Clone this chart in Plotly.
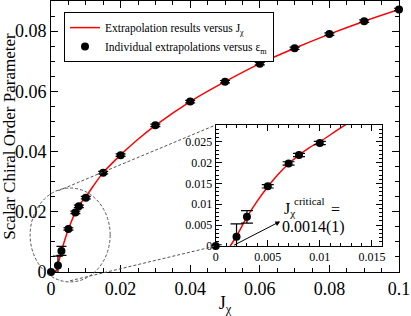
import plotly.graph_objects as go

# ---- data ----
j_chi = [0.0, 0.002, 0.003, 0.005, 0.007, 0.008, 0.010, 0.015, 0.020, 0.030,
         0.040, 0.050, 0.060, 0.070, 0.080, 0.090, 0.100]
order_param = [0.0, 0.0022, 0.0070, 0.0143, 0.0198, 0.0218, 0.0247, 0.0330, 0.0388,
               0.0487, 0.0566, 0.0632, 0.0692, 0.0743, 0.0790, 0.0833, 0.0872]
err_plus = [0.0003, 0.0031, 0.0015, 0.0004, 0.0004, 0.0004, 0.0004, 0.0004, 0.0004,
            0.0004, 0.0004, 0.0004, 0.0004, 0.0004, 0.0004, 0.0004, 0.0004]
err_minus = [0.0003, 0.0031, 0.0015, 0.0004, 0.0004, 0.0004, 0.0004, 0.0004, 0.0004,
             0.0004, 0.0004, 0.0004, 0.0004, 0.0004, 0.0004, 0.0004, 0.0004]

fit_x = [0.0014, 0.002, 0.003, 0.004, 0.005, 0.006, 0.007, 0.008, 0.009, 0.010, 0.012,
         0.015, 0.020, 0.025, 0.030, 0.040, 0.050, 0.060, 0.070, 0.080, 0.090, 0.100]
fit_y = [0.0, 0.0024, 0.0069, 0.0108, 0.0142, 0.0172, 0.0197, 0.0218, 0.0236, 0.0250,
         0.0283, 0.0330, 0.0389, 0.0441, 0.0487, 0.0566, 0.0632, 0.0692, 0.0743,
         0.0790, 0.0833, 0.0872]

n_inset = 7  # points shown in the inset (J_chi <= 0.01)

FONT = "Liberation Serif"
W, H = 411, 316
ML, MR, MT, MB = 51, 12, 1, 44
XR, YR = [0, 0.1], [0, 0.09]
INSET_X = [0.4733, 0.952]
INSET_Y = [0.0959, 0.5424]


def px(xv):
    return (xv - XR[0]) / (XR[1] - XR[0])


def py(yv):
    return (yv - YR[0]) / (YR[1] - YR[0])


fig = go.Figure()

# main panel
fig.add_trace(go.Scatter(x=fit_x, y=fit_y, mode="lines", line=dict(color="red", width=1.5, shape="spline"),
                         name="Extrapolation results versus J<sub>χ</sub>", xaxis="x", yaxis="y"))
fig.add_trace(go.Scatter(x=j_chi, y=order_param, mode="markers",
                         marker=dict(color="black", size=8),
                         error_y=dict(type="data", array=err_plus, arrayminus=err_minus,
                                      color="black", thickness=1.2, width=5),
                         cliponaxis=False,
                         name="Individual extrapolations versus ε<sub>m</sub>", xaxis="x", yaxis="y"))

# inset panel
fig.add_trace(go.Scatter(x=fit_x, y=fit_y, mode="lines", line=dict(color="red", width=1.5, shape="spline"),
                         showlegend=False, xaxis="x2", yaxis="y2"))
fig.add_trace(go.Scatter(x=j_chi[:n_inset], y=order_param[:n_inset], mode="markers",
                         marker=dict(color="black", size=8),
                         error_y=dict(type="data", array=err_plus[:n_inset], arrayminus=err_minus[:n_inset],
                                      color="black", thickness=1.2, width=6),
                         cliponaxis=False, showlegend=False, xaxis="x2", yaxis="y2"))

axis_common = dict(showline=True, linecolor="black", linewidth=1, mirror="allticks",
                   ticks="inside", tickcolor="black", showgrid=False, zeroline=False,
                   automargin=False)

fig.update_layout(
    width=W, height=H,
    margin=dict(l=ML, r=MR, t=MT, b=MB),
    paper_bgcolor="white", plot_bgcolor="white",
    font=dict(family=FONT, color="black"),
    xaxis=dict(domain=[0, 1], range=XR, dtick=0.02, ticklen=7,
               tickfont=dict(size=18),
               minor=dict(dtick=0.005, ticklen=4, ticks="inside", tickcolor="black"),
               title=dict(text="J<sub>χ</sub>", font=dict(size=18), standoff=2),
               **axis_common),
    yaxis=dict(domain=[0, 1], range=YR, dtick=0.02, ticklen=7,
               tickfont=dict(size=18),
               minor=dict(dtick=0.005, ticklen=4, ticks="inside", tickcolor="black"),
               title=dict(text="Scalar Chiral Order Parameter", font=dict(size=17), standoff=2),
               **axis_common),
    xaxis2=dict(domain=INSET_X, anchor="y2", range=[0, 0.016], dtick=0.005, ticklen=6,
                tickfont=dict(size=12),
                minor=dict(dtick=0.001, ticklen=3, ticks="inside", tickcolor="black"),
                **axis_common),
    yaxis2=dict(domain=INSET_Y, anchor="x2", range=[0, 0.029], dtick=0.005, ticklen=6,
                tickfont=dict(size=12),
                minor=dict(dtick=0.001, ticklen=3, ticks="inside", tickcolor="black"),
                **axis_common),
    legend=dict(x=0.0374, y=0.959, xanchor="left", yanchor="top",
                bgcolor="white", bordercolor="black", borderwidth=1,
                font=dict(size=11.5), itemwidth=30, tracegroupgap=0),
    showlegend=True,
)

# ellipse around the zoomed region and connectors to the inset
dash = dict(color="#555555", width=1, dash="3px,2px")
fig.add_shape(type="circle", xref="paper", yref="paper",
              x0=px(-0.0060), x1=px(0.0170), y0=py(-0.0033), y1=py(0.0279), line=dash)
fig.add_shape(type="line", xref="paper", yref="paper",
              x0=px(0.0021), y0=py(0.0270), x1=INSET_X[0], y1=INSET_Y[1], line=dash)
fig.add_shape(type="line", xref="paper", yref="paper",
              x0=px(0.0055), y0=py(-0.0029), x1=INSET_X[0], y1=INSET_Y[0], line=dash)

# critical point annotation in the inset
fig.add_annotation(x=0.0062, y=0.0059, ax=0.0016, ay=0.0, xref="x2", yref="y2",
                   axref="x2", ayref="y2", showarrow=True, arrowhead=2, arrowsize=1,
                   arrowwidth=1, arrowcolor="black", text="")
fig.add_annotation(x=0.0071, y=0.0087, xref="x2", yref="y2", showarrow=False,
                   text="J<sub>χ</sub>", font=dict(size=16))
fig.add_annotation(x=0.0090, y=0.0107, xref="x2", yref="y2", showarrow=False,
                   text="critical", font=dict(size=11))
fig.add_annotation(x=0.0115, y=0.0087, xref="x2", yref="y2", showarrow=False,
                   text="=", font=dict(size=16))
fig.add_annotation(x=0.0094, y=0.0046, xref="x2", yref="y2", showarrow=False,
                   text="0.0014(1)", font=dict(size=16))

fig.write_html("out.html", config={"displayModeBar": False},
               post_script="document.body.style.margin='0';")
